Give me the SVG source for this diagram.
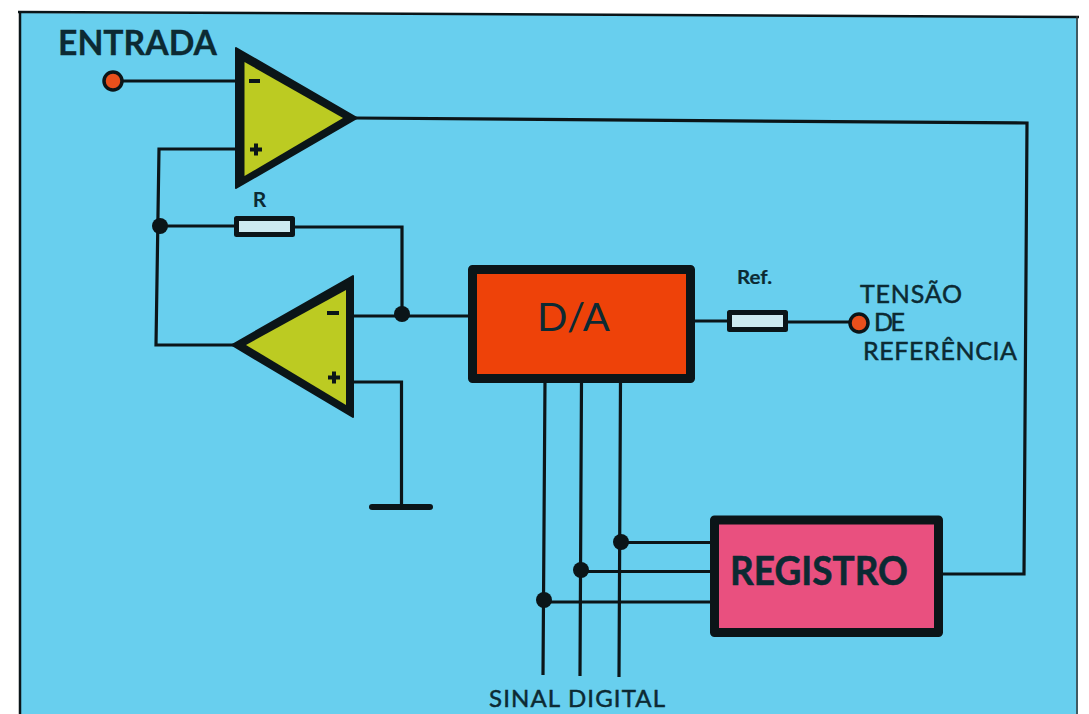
<svg xmlns="http://www.w3.org/2000/svg" width="1089" height="714" viewBox="0 0 1089 714">
<style>
.w{fill:none;stroke:#0b1518;stroke-width:3.2;stroke-linejoin:miter}
.d{fill:#0b1518}
.t{font-family:"Lato","Noto Sans",sans-serif;fill:#0c2a33;stroke:#0c2a33}
.box{stroke:#0b1518;stroke-width:9;stroke-linejoin:round}
.out{fill:#0b1518;stroke:#0b1518;stroke-width:2;stroke-linejoin:round}
.in{fill:#bccb22}
.res{fill:#cdeaf0;stroke:#0b1518;stroke-width:5;stroke-linejoin:round}
.pin{fill:#e8501c;stroke:#0b1518;stroke-width:3.5}
.m{stroke:#0b1518;stroke-width:4;fill:none}
</style>
<rect width="1089" height="714" fill="#fff"/>
<path d="M19 13L1078 17V714H19Z" fill="#68cfee"/>
<path d="M18 12L1079 17" stroke="#0b1518" stroke-width="2.5" fill="none"/>
<path d="M20 12V714" stroke="#0b1518" stroke-width="2.5" fill="none"/>
<path d="M1077 16V714" stroke="#333" stroke-width="1.5" fill="none"/>
<g id="connectors">
<path class="w" d="M122 81H238"/>
<path class="w" d="M355 118L1027 123L1024 574H942"/>
<path class="w" d="M236 149H159L156 345H234"/>
<path class="w" d="M160 226H238M294 227H402V316"/>
<path class="w" d="M352 316H472"/>
<path class="w" d="M352 382H401.500V505"/>
<path d="M372 507H430" stroke="#0b1518" stroke-width="6" stroke-linecap="round" fill="none"/>
<path class="w" d="M692 321H730M786 322H852"/>
<path class="w" d="M545 380L543 675M581.500 380L580 676M620.500 380L619 677"/>
<path class="w" d="M621 542.500H712M582 571.500H712M544 602H712"/>
<circle class="d" cx="160" cy="226" r="8"/>
<circle class="d" cx="402" cy="314" r="8"/>
<circle class="d" cx="621" cy="542" r="8"/>
<circle class="d" cx="581" cy="570" r="8"/>
<circle class="d" cx="544" cy="600" r="8"/>
</g>
<g id="amp-top">
<path class="out" d="M236 48L357 118L236 188Z"/>
<path class="in" d="M244.500 62L343 118L244.500 176Z"/>
<path class="m" d="M249 81H260"/>
<path class="m" d="M250 149.500H262M256 143.500V155.500"/>
</g>
<g id="amp-bottom">
<path class="out" d="M353 276V417L232 345Z"/>
<path class="in" d="M346 290V405L246 345Z"/>
<path class="m" d="M327 313H339"/>
<path class="m" d="M328 377.500H340M334 371.500V383.500"/>
</g>
<g id="entrada">
<circle class="pin" cx="113" cy="81" r="9"/>
<text class="t" stroke-width="0.3" x="58" y="55" font-size="34" font-weight="700" textLength="159" lengthAdjust="spacingAndGlyphs">ENTRADA</text>
</g>
<g id="resistor-r">
<rect class="res" x="236.500" y="218.500" width="56" height="16"/>
<text class="t" stroke-width="0" x="259.500" y="207" font-size="21" font-weight="700" text-anchor="middle">R</text>
</g>
<g id="da">
<rect class="box" x="472.500" y="269.500" width="218" height="109" fill="#ee4209"/>
<text class="t" stroke-width="0" x="537" y="331" font-size="39" textLength="73" lengthAdjust="spacingAndGlyphs">D/A</text>
</g>
<g id="resistor-ref">
<rect class="res" x="729.500" y="312.500" width="56" height="17"/>
<text class="t" stroke-width="0.2" x="737" y="284" font-size="19" font-weight="700" textLength="35" lengthAdjust="spacingAndGlyphs">Ref.</text>
</g>
<g id="tensao">
<circle class="pin" cx="859" cy="323" r="9"/>
<text class="t" stroke-width="0.5" x="860" y="303" font-size="25" textLength="102" lengthAdjust="spacing">TENSÃO</text>
<text class="t" stroke-width="0.5" x="874" y="331" font-size="25" textLength="31" lengthAdjust="spacing">DE</text>
<text class="t" stroke-width="0.5" x="863" y="360" font-size="25" textLength="154" lengthAdjust="spacing">REFERÊNCIA</text>
</g>
<g id="registro">
<rect class="box" x="714.500" y="520" width="224" height="112.500" fill="#e9507f"/>
<text class="t" stroke-width="0.6" x="730" y="585" font-size="41" font-weight="700" textLength="178" lengthAdjust="spacingAndGlyphs">REGISTRO</text>
</g>
<text class="t" stroke-width="0.5" x="489" y="707" font-size="24" textLength="176" lengthAdjust="spacing">SINAL DIGITAL</text>
</svg>
